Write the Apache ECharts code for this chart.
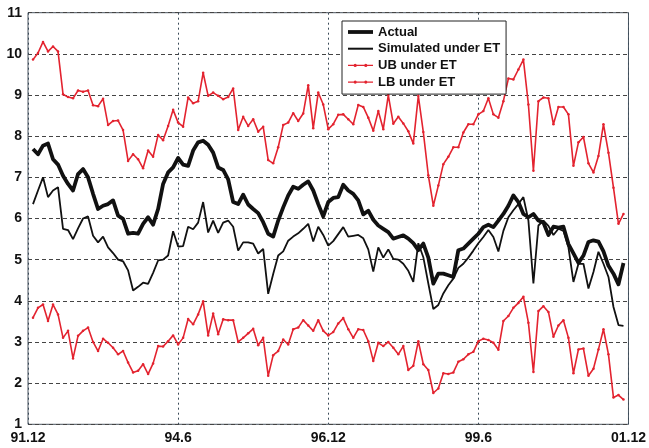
<!DOCTYPE html>
<html>
<head>
<meta charset="utf-8">
<script src="https://cdn.jsdelivr.net/npm/echarts@6/dist/echarts.min.js"></script>
<style>
  html, body { margin: 0; padding: 0; background: #fff; }
  #chart { width: 649px; height: 448px; }
</style>
</head>
<body>
<div id="chart"></div>
<script>
// Monthly observations, 92.01 .. 01.11 (month index 1..119 from 91.12)
const xTickLabels = ['91.12', '94.6', '96.12', '99.6', '01.12'];
const yTicks = [1, 2, 3, 4, 5, 6, 7, 8, 9, 10, 11];

const actual = [
  7.69, 7.56, 7.77, 7.82, 7.44, 7.31, 7.04, 6.84, 6.68, 7.08,
  7.20, 7.00, 6.60, 6.23, 6.31, 6.35, 6.44, 6.07, 5.99, 5.63,
  5.65, 5.63, 5.87, 6.03, 5.85, 6.23, 6.84, 7.12, 7.24, 7.47,
  7.31, 7.28, 7.65, 7.85, 7.89, 7.79, 7.60, 7.24, 7.18, 6.95,
  6.40, 6.35, 6.58, 6.34, 6.23, 6.13, 5.91, 5.63, 5.56, 5.95,
  6.27, 6.56, 6.77, 6.72, 6.82, 6.90, 6.68, 6.35, 6.05, 6.40,
  6.50, 6.52, 6.82, 6.68, 6.60, 6.44, 6.10, 6.19, 5.97, 5.83,
  5.75, 5.67, 5.51, 5.55, 5.59, 5.51, 5.40, 5.23, 5.39, 5.05,
  4.42, 4.66, 4.66, 4.62, 4.58, 5.23, 5.27, 5.39, 5.51, 5.63,
  5.79, 5.85, 5.79, 5.95, 6.11, 6.31, 6.56, 6.40, 6.11, 6.03,
  6.11, 5.95, 5.90, 5.60, 5.80, 5.78, 5.80, 5.38, 5.15, 4.92,
  5.10, 5.43, 5.47, 5.44, 5.20, 4.85, 4.66, 4.40, 4.92
];

const simulated = [
  6.35, 6.68, 7.00, 6.52, 6.68, 6.76, 5.75, 5.72, 5.50, 5.76,
  6.00, 6.05, 5.58, 5.42, 5.56, 5.30, 5.16, 5.00, 4.96, 4.74,
  4.25, 4.34, 4.44, 4.41, 4.68, 4.98, 5.00, 5.10, 5.69, 5.32,
  5.33, 5.80, 5.74, 5.90, 6.40, 5.66, 5.95, 5.65, 5.90, 5.95,
  5.80, 5.22, 5.42, 5.42, 5.39, 5.15, 5.26, 4.17, 4.65, 5.10,
  5.20, 5.46, 5.56, 5.64, 5.75, 5.87, 5.44, 5.80, 5.60, 5.34,
  5.45, 5.62, 5.79, 5.56, 5.58, 5.60, 5.52, 5.25, 4.71, 5.30,
  5.05, 5.25, 5.02, 5.00, 4.90, 4.73, 4.46, 5.40, 5.06, 4.42,
  3.80, 3.90, 4.18, 4.38, 4.54, 4.80, 4.90, 5.05, 5.22, 5.40,
  5.55, 5.72, 5.55, 5.20, 5.70, 6.03, 6.20, 6.35, 6.52, 5.95,
  4.42, 5.83, 5.95, 5.82, 5.60, 5.75, 5.70, 5.30, 4.46, 4.90,
  4.90, 4.30, 4.70, 5.19, 4.90, 4.58, 3.85, 3.41, 3.39
];

const upperBound = [
  9.86, 10.02, 10.29, 10.06, 10.18, 10.06, 9.02, 8.95, 8.92, 9.11,
  9.08, 9.11, 8.75, 8.73, 8.91, 8.27, 8.37, 8.38, 8.15, 7.40,
  7.56, 7.44, 7.22, 7.65, 7.50, 8.03, 7.90, 8.25, 8.64, 8.33,
  8.23, 8.94, 8.80, 8.85, 9.54, 8.98, 9.06, 8.98, 8.90, 8.95,
  9.16, 8.15, 8.47, 8.25, 8.41, 8.11, 8.23, 7.42, 7.34, 7.73,
  8.27, 8.33, 8.56, 8.37, 8.55, 9.24, 8.19, 9.06, 8.77, 8.17,
  8.29, 8.52, 8.53, 8.41, 8.29, 8.76, 8.71, 8.45, 8.13, 8.61,
  8.17, 9.00, 8.30, 8.47, 8.31, 8.12, 7.82, 8.98, 8.10, 7.05,
  6.31, 6.80, 7.32, 7.50, 7.73, 7.73, 8.09, 8.29, 8.29, 8.53,
  8.61, 8.92, 8.53, 8.45, 8.85, 9.40, 9.38, 9.62, 9.86, 8.77,
  7.16, 8.85, 8.94, 8.92, 8.29, 8.71, 8.71, 8.53, 7.28, 7.85,
  7.98, 7.34, 7.12, 7.52, 8.29, 7.60, 6.75, 5.87, 6.11
];

const lowerBound = [
  3.59, 3.83, 3.91, 3.51, 3.91, 3.67, 3.10, 3.27, 2.60, 3.15,
  3.27, 3.35, 3.00, 2.78, 3.08, 2.98, 2.86, 2.70, 2.78, 2.50,
  2.26, 2.30, 2.46, 2.22, 2.48, 2.90, 2.89, 3.02, 3.16, 2.94,
  3.10, 3.56, 3.43, 3.67, 3.99, 3.16, 3.69, 3.19, 3.55, 3.53,
  3.53, 3.00, 3.10, 3.21, 3.32, 2.92, 3.10, 2.18, 2.68, 2.78,
  3.06, 2.94, 3.31, 3.35, 3.53, 3.40, 3.27, 3.53, 3.27, 3.16,
  3.24, 3.45, 3.58, 3.31, 3.10, 3.31, 3.29, 3.02, 2.54, 2.98,
  2.90, 3.00, 2.86, 2.70, 2.90, 2.32, 2.42, 3.02, 2.46, 2.32,
  1.76, 1.87, 2.24, 2.22, 2.26, 2.52, 2.58, 2.70, 2.76, 3.02,
  3.08, 3.05, 2.98, 2.81, 3.51, 3.63, 3.83, 3.95, 4.10, 3.47,
  2.27, 3.75, 3.87, 3.73, 3.13, 3.40, 3.53, 3.10, 2.24, 2.82,
  2.84, 2.18, 2.35, 2.82, 3.31, 2.70, 1.65, 1.71, 1.60
];

const seriesNames = ['Actual', 'Simulated under ET', 'UB under ET', 'LB under ET'];

// pair each value with its month index (1 = 92.01)
const withMonth = arr => arr.map((v, i) => [i + 1, v]);

const FONT = '"Liberation Sans", Arial, Helvetica, sans-serif';
const RED = '#e3232f';
const BLACK = '#111111';

// legend glyphs: plain strokes for the black lines, stroke with solid dots for the bounds
const ICON_THICK = 'path://M0,0 L25,0 L25,3.8 L0,3.8 Z';
const ICON_THIN = 'path://M0,0 L25,0 L25,2 L0,2 Z';
const ICON_DOTTED = 'path://M0,0.9 L25,0.9 L25,2.3 L0,2.3 Z' +
  ' M5.6,1.6 a1.6,1.6 0 1,1 3.2,0 a1.6,1.6 0 1,1 -3.2,0 Z' +
  ' M16.2,1.6 a1.6,1.6 0 1,1 3.2,0 a1.6,1.6 0 1,1 -3.2,0 Z';

const chart = echarts.init(document.getElementById('chart'), null, { renderer: 'canvas' });

chart.setOption({
  animation: false,
  backgroundColor: '#ffffff',
  grid: {
    left: 28, right: 19, top: 12.7, bottom: 23.7,
    show: true, borderColor: '#4a5560', borderWidth: 1, backgroundColor: 'transparent'
  },
  legend: {
    data: [
      { name: seriesNames[0], icon: ICON_THICK },
      { name: seriesNames[1], icon: ICON_THIN },
      { name: seriesNames[2], icon: ICON_DOTTED },
      { name: seriesNames[3], icon: ICON_DOTTED }
    ],
    orient: 'vertical',
    left: 342, top: 21,
    padding: [4, 6, 5, 6],
    itemGap: 2.7,
    itemWidth: 25,
    itemHeight: 14,
    symbolKeepAspect: true,
    backgroundColor: '#ffffff',
    borderColor: '#222222',
    borderWidth: 1,
    borderRadius: 0,
    textStyle: { fontFamily: FONT, fontWeight: 'bold', fontSize: 13, color: '#111', lineHeight: 14 }
  },
  xAxis: {
    type: 'value',
    min: 0, max: 120, interval: 30,
    axisLine: { show: false },
    axisTick: { show: false },
    axisLabel: {
      margin: 7,
      fontFamily: FONT, fontWeight: 'bold', fontSize: 14, color: '#111',
      formatter: v => xTickLabels[Math.round(v / 30)]
    },
    splitLine: { show: true, lineStyle: { color: '#3a4a58', width: 1, type: [2, 3] } }
  },
  yAxis: {
    type: 'value',
    min: yTicks[0], max: yTicks[yTicks.length - 1], interval: 1,
    axisLine: { show: false },
    axisTick: { show: false },
    axisLabel: {
      margin: 6,
      fontFamily: FONT, fontWeight: 'bold', fontSize: 14, color: '#111'
    },
    splitLine: { show: true, lineStyle: { color: '#444', width: 1, type: [4, 3] } }
  },
  series: [
    {
      name: seriesNames[2], type: 'line', data: withMonth(upperBound),
      symbol: 'circle', symbolSize: 2.5, showSymbol: true,
      itemStyle: { color: RED }, lineStyle: { color: RED, width: 1.6 }, z: 2
    },
    {
      name: seriesNames[3], type: 'line', data: withMonth(lowerBound),
      symbol: 'circle', symbolSize: 2.5, showSymbol: true,
      itemStyle: { color: RED }, lineStyle: { color: RED, width: 1.6 }, z: 2
    },
    {
      name: seriesNames[1], type: 'line', data: withMonth(simulated),
      symbol: 'none', showSymbol: false,
      itemStyle: { color: BLACK }, lineStyle: { color: BLACK, width: 1.8 }, z: 3
    },
    {
      name: seriesNames[0], type: 'line', data: withMonth(actual),
      symbol: 'none', showSymbol: false,
      itemStyle: { color: BLACK }, lineStyle: { color: BLACK, width: 3.8, join: 'round' }, z: 4
    }
  ]
});
</script>
</body>
</html>
